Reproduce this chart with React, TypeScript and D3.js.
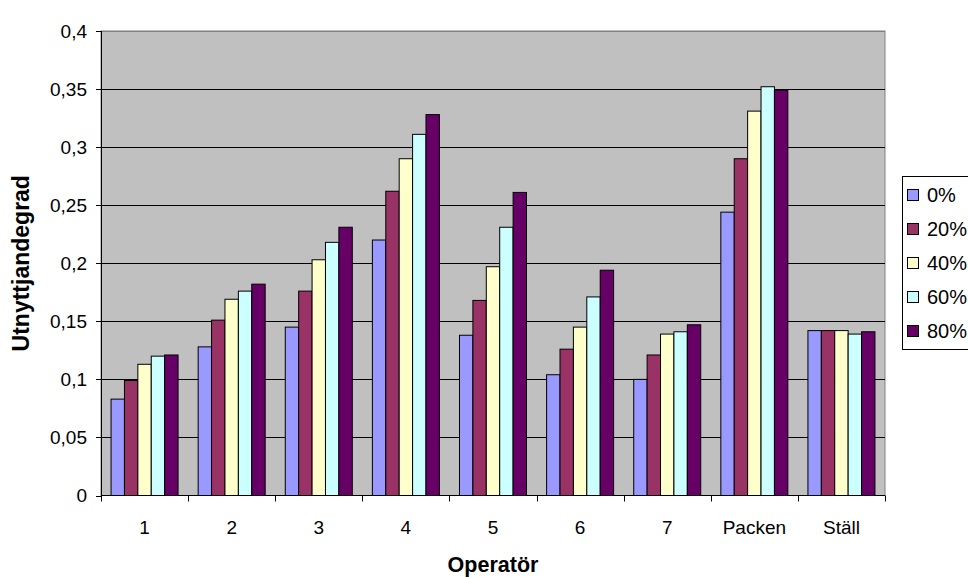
import React from "react";
import * as d3 from "d3";

const categories = ["1", "2", "3", "4", "5", "6", "7", "Packen", "Ställ"];
const seriesNames = ["0%", "20%", "40%", "60%", "80%"];
const seriesColors = ["#9999FF", "#993366", "#FFFFCC", "#CCFFFF", "#660066"];

const s0 = [0.083, 0.128, 0.145, 0.22, 0.138, 0.104, 0.1, 0.244, 0.142];
const s20 = [0.099, 0.151, 0.176, 0.262, 0.168, 0.126, 0.121, 0.29, 0.142];
const s40 = [0.113, 0.169, 0.203, 0.29, 0.197, 0.145, 0.139, 0.331, 0.142];
const s60 = [0.12, 0.176, 0.218, 0.311, 0.231, 0.171, 0.141, 0.352, 0.139];
const s80 = [0.121, 0.182, 0.231, 0.328, 0.261, 0.194, 0.147, 0.349, 0.141];
const seriesValues = [s0, s20, s40, s60, s80];

const yTicks = [0, 0.05, 0.1, 0.15, 0.2, 0.25, 0.3, 0.35, 0.4];

const W = 968;
const H = 579;
const plot = { left: 101, right: 885, top: 31, bottom: 495.5 };
const font = "Arial, 'Liberation Sans', sans-serif";
const labelSize = 19;

export default function App() {
  const x = d3
    .scaleBand<string>()
    .domain(categories)
    .range([plot.left, plot.right])
    .paddingInner(0)
    .paddingOuter(0);
  // five bars per group, with a gap of 1.5 bar widths between groups
  const groupWidth = x.bandwidth() * (5 / 6.5);
  const inner = d3
    .scaleBand<number>()
    .domain(d3.range(seriesNames.length))
    .range([0, groupWidth]);
  const groupOffset = (x.bandwidth() - groupWidth) / 2;
  const y = d3.scaleLinear().domain([0, 0.4]).range([plot.bottom, plot.top]);
  const fmt = (v: number) => String(+v.toFixed(2)).replace(".", ",");

  const boundaries = d3.range(categories.length + 1).map((i) => plot.left + i * x.bandwidth());

  return (
    <svg
      width={W}
      height={H}
      style={{ position: "absolute", left: 0, top: 0, background: "#fff" }}
      fontFamily={font}
    >
      <rect
        x={plot.left}
        y={plot.top}
        width={plot.right - plot.left}
        height={plot.bottom - plot.top}
        fill="#C0C0C0"
        stroke="#808080"
        strokeWidth={1}
      />
      {yTicks.slice(1).map((t) => (
        <line
          key={t}
          x1={plot.left}
          x2={plot.right}
          y1={Math.round(y(t)) + 0.5}
          y2={Math.round(y(t)) + 0.5}
          stroke={t === 0.4 ? "#808080" : "#000"}
          strokeWidth={1}
        />
      ))}
      {categories.map((c, ci) =>
        seriesValues.map((vals, si) => {
          const bx = (x(c) as number) + groupOffset + (inner(si) as number);
          return (
            <rect
              key={c + si}
              x={bx}
              y={y(vals[ci])}
              width={inner.bandwidth()}
              height={plot.bottom - y(vals[ci])}
              fill={seriesColors[si]}
              stroke="#000"
              strokeWidth={1}
            />
          );
        })
      )}
      {/* axes */}
      <line x1={plot.left + 0.5} x2={plot.left + 0.5} y1={plot.top} y2={plot.bottom} stroke="#000" />
      <line x1={plot.left} x2={plot.right} y1={plot.bottom} y2={plot.bottom} stroke="#000" />
      {yTicks.map((t) => (
        <g key={t}>
          <line
            x1={plot.left - 5}
            x2={plot.left}
            y1={Math.round(y(t)) + 0.5}
            y2={Math.round(y(t)) + 0.5}
            stroke="#000"
          />
          <text x={87} y={y(t)} dy="0.35em" textAnchor="end" fontSize={labelSize} fill="#000">
            {fmt(t)}
          </text>
        </g>
      ))}
      {boundaries.map((bx, i) => (
        <line
          key={i}
          x1={Math.round(bx) + 0.5}
          x2={Math.round(bx) + 0.5}
          y1={plot.bottom}
          y2={plot.bottom + 6}
          stroke="#000"
        />
      ))}
      {categories.map((c) => (
        <text
          key={c}
          x={(x(c) as number) + x.bandwidth() / 2}
          y={534}
          textAnchor="middle"
          fontSize={labelSize}
          fill="#000"
        >
          {c}
        </text>
      ))}
      <text x={493} y={572} textAnchor="middle" fontSize={21.5} fontWeight="bold" fill="#000">
        Operatör
      </text>
      <text
        transform={`translate(29, ${(plot.top + plot.bottom) / 2}) rotate(-90)`}
        textAnchor="middle"
        fontSize={23}
        fontWeight="bold"
        fill="#000"
      >
        Utnyttjandegrad
      </text>
      {/* legend */}
      <rect x={902.5} y={176.5} width={80} height={173} fill="#fff" stroke="#000" strokeWidth={1} />
      {seriesNames.map((n, i) => {
        const ly = 195 + i * 34;
        return (
          <g key={n}>
            <rect x={907.5} y={ly - 5.5} width={11} height={11} fill={seriesColors[i]} stroke="#000" />
            <text x={927} y={ly} dy="0.35em" fontSize={20} fill="#000">
              {n}
            </text>
          </g>
        );
      })}
    </svg>
  );
}
